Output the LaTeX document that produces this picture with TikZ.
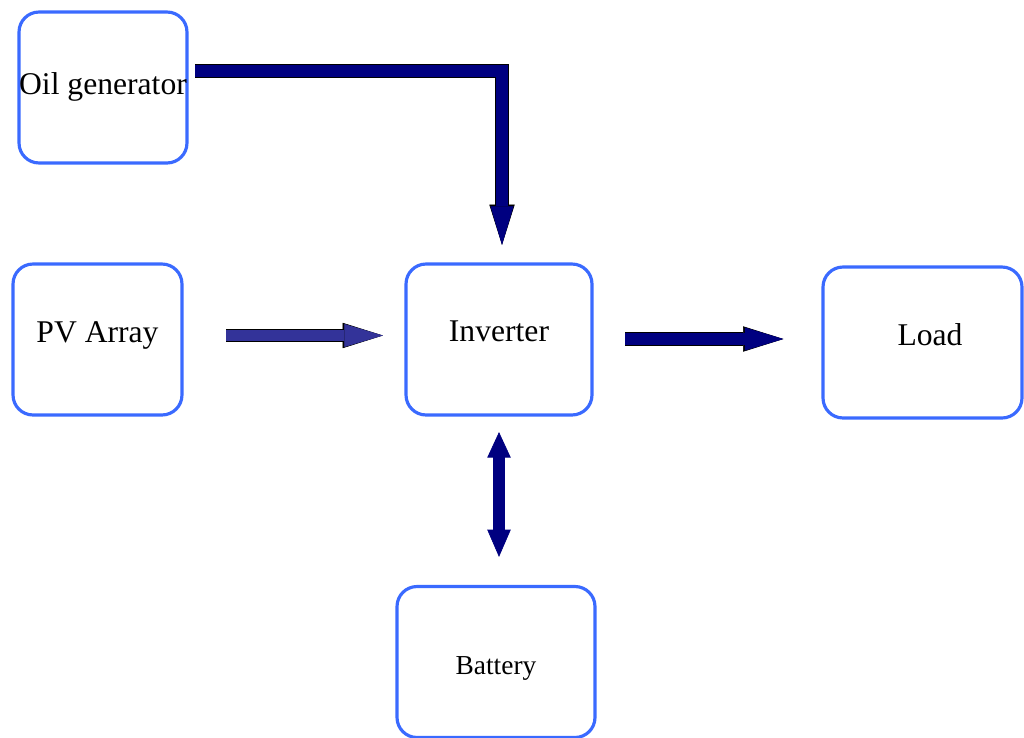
\documentclass[tikz,border=0pt]{standalone}
\usepackage{fontspec}
\setmainfont{Liberation Serif}
\usetikzlibrary{arrows.meta}
\definecolor{boxblue}{HTML}{3A6AFF}
\definecolor{navyblue}{HTML}{000080}
\definecolor{slateblue}{HTML}{333399}
\tikzset{
  blockbox/.style={draw=boxblue, line width=1.8pt, rounded corners=0.4cm, inner sep=0pt,
    minimum height=3.02cm, font=\fontsize{18}{20}\selectfont},
  fatarrow/.style={draw=#1, line width=6.6pt, line join=miter,
    -{Triangle[length=22pt, width=13pt, line width=0.4pt]},
    preaction={draw=black, line width=7.8pt, -{Triangle[length=23pt, width=14.4pt, line width=0.4pt]}}},
  fatarrow/.default=navyblue,
  twoway/.style={draw=navyblue, line width=7.2pt,
    {Triangle[length=14.5pt, width=13.3pt, line width=0.4pt]}-{Triangle[length=15.5pt, width=13.3pt, line width=0.4pt]}},
}
\begin{document}
\begin{tikzpicture}[x=0.02cm, y=-0.02cm]
        \useasboundingbox (0,0) rectangle (1024,737);
        \tikzstyle{every node}=[blockbox];
        %\node (name) at (x,y) [minimum width=...] {text};
        \node (oil) at (103,87.5) [minimum width=3.36cm, text depth=4pt] {Oil generator};
        \node (pv) at (97.5,339.5) [minimum width=3.38cm, text depth=9pt] {PV Array};
        \node (inv) at (499,339.5) [minimum width=3.72cm, text depth=9pt] {Inverter};
        \node (load) at (922.5,342.5) [minimum width=3.98cm, text depth=9pt] {\hspace*{0.3cm}Load};
        \node (bat) at (496,662) [minimum width=3.96cm, text height=18pt,
          font=\fontsize{15.6}{18}\selectfont] {Battery};
        % power flow
        \draw[fatarrow] (oil.east) ++(6.5,-16.5) -| ([xshift=0.06cm, yshift=0.35cm]inv.north);
        \draw[fatarrow=slateblue, shorten <=0.85cm, shorten >=0.43cm] ([yshift=0.08cm]pv.east) -- ([yshift=0.08cm]inv.west);
        \draw[fatarrow, shorten <=0.63cm, shorten >=0.76cm] ([yshift=0.01cm]inv.east) -- ([yshift=0.01cm]inv.east -| load.west);
        \draw[twoway, shorten <=0.31cm, shorten >=0.56cm] (inv.south) -- (inv.south |- bat.north);
    \end{tikzpicture}
\end{document}
